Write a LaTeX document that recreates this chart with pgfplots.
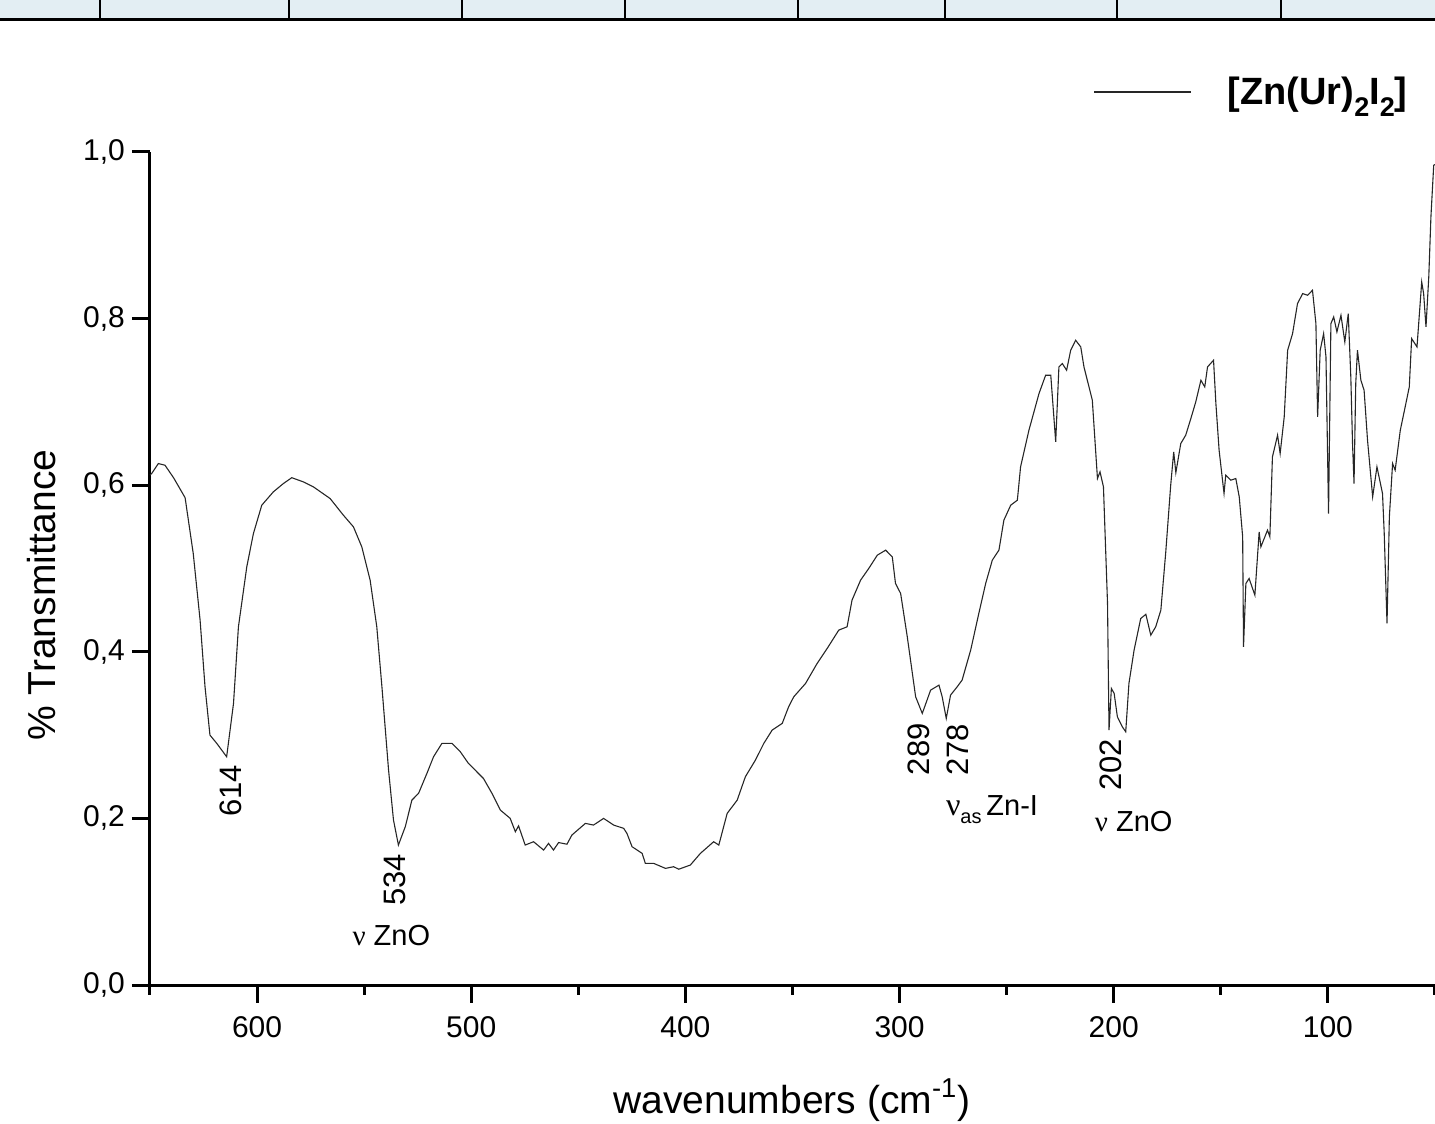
\documentclass[border=0pt]{standalone}
\usepackage{fontspec}
\setmainfont{Liberation Sans}
\newfontfamily\greekfont{Liberation Serif}
\usepackage{pgfplots}
\pgfplotsset{compat=1.18}
\definecolor{bandblue}{RGB}{227,238,243}

\pgfplotstableread{
x y
650.0 0.612
649.2 0.614
646.1 0.626
643.0 0.624
639.0 0.609
633.6 0.585
629.8 0.518
626.6 0.438
624.3 0.358
622.0 0.300
618.8 0.290
614.2 0.274
611.0 0.338
608.7 0.430
604.8 0.502
601.7 0.542
597.8 0.576
592.4 0.592
587.7 0.602
583.8 0.609
578.4 0.604
573.7 0.598
565.9 0.584
559.7 0.564
555.0 0.550
551.1 0.526
547.2 0.486
544.1 0.430
541.7 0.358
538.6 0.258
536.3 0.198
534.0 0.168
530.8 0.190
527.7 0.222
524.6 0.230
520.7 0.254
517.6 0.274
513.7 0.290
509.0 0.290
505.1 0.280
501.3 0.266
494.3 0.248
490.3 0.230
486.4 0.210
481.8 0.200
479.4 0.184
477.9 0.191
474.8 0.168
470.9 0.172
466.2 0.162
463.9 0.170
461.6 0.162
459.2 0.171
455.3 0.169
453.0 0.180
446.7 0.194
442.9 0.192
438.2 0.200
433.5 0.192
428.8 0.188
427.3 0.182
424.9 0.166
420.2 0.158
418.7 0.146
414.8 0.146
409.3 0.140
405.5 0.142
403.1 0.139
397.7 0.144
393.0 0.158
386.8 0.172
384.4 0.168
380.5 0.206
375.8 0.222
372.0 0.250
367.3 0.270
363.4 0.290
359.5 0.306
354.8 0.314
351.8 0.334
349.4 0.346
343.9 0.362
338.5 0.386
333.8 0.404
328.4 0.426
324.5 0.430
322.2 0.462
318.2 0.486
314.4 0.500
310.4 0.516
306.5 0.522
303.4 0.514
301.9 0.482
299.5 0.470
296.4 0.418
292.5 0.346
289.4 0.326
285.5 0.354
281.6 0.360
280.1 0.346
278.2 0.320
276.2 0.348
273.1 0.358
270.8 0.366
266.8 0.402
263.0 0.446
259.8 0.482
256.7 0.510
253.6 0.522
251.3 0.558
248.1 0.576
245.0 0.582
243.5 0.622
239.6 0.666
234.9 0.710
231.8 0.732
229.4 0.732
227.1 0.652
225.6 0.742
224.0 0.746
222.0 0.738
220.1 0.762
217.8 0.774
215.4 0.766
213.9 0.742
210.0 0.702
207.6 0.608
206.4 0.616
204.8 0.598
202.9 0.458
202.2 0.306
201.1 0.356
199.8 0.350
198.3 0.322
196.0 0.310
194.4 0.304
192.9 0.362
190.5 0.402
187.4 0.440
185.0 0.445
182.7 0.420
180.4 0.430
178.0 0.450
175.7 0.520
173.4 0.600
172.0 0.640
171.0 0.615
168.7 0.650
166.4 0.660
164.0 0.680
161.7 0.700
159.3 0.726
157.5 0.718
156.2 0.742
153.4 0.750
152.3 0.698
150.8 0.642
148.5 0.590
147.7 0.612
145.3 0.606
143.0 0.608
141.4 0.586
139.8 0.538
139.4 0.406
138.3 0.482
136.8 0.488
134.1 0.468
132.1 0.544
131.3 0.526
128.2 0.546
127.1 0.538
125.9 0.634
123.5 0.660
122.3 0.638
120.4 0.682
118.8 0.762
116.5 0.782
114.2 0.818
111.8 0.830
109.5 0.828
107.2 0.834
105.6 0.794
104.8 0.682
103.6 0.762
102.0 0.782
100.9 0.754
99.7 0.566
98.6 0.794
97.3 0.802
95.8 0.784
93.9 0.804
92.1 0.772
90.5 0.806
89.3 0.730
88.5 0.650
87.8 0.602
87.0 0.722
86.2 0.762
84.6 0.726
83.1 0.714
81.5 0.654
79.1 0.586
77.1 0.622
74.5 0.590
73.7 0.542
72.4 0.434
71.3 0.562
69.8 0.626
68.6 0.618
66.2 0.666
63.6 0.698
62.0 0.718
60.9 0.776
58.4 0.766
56.2 0.844
55.3 0.830
54.2 0.790
52.9 0.850
51.9 0.922
50.6 0.984
50.0 0.985
}\spectrum

\newcommand{\lowsub}[1]{\raisebox{-0.55ex}{\fontsize{10}{12}\selectfont #1}}
\newcommand{\legsub}[1]{\raisebox{-0.6ex}{\fontsize{13.5}{15}\selectfont\bfseries #1}}

\begin{document}
\begin{tikzpicture}
% strip at the top of the screenshot
\fill[bandblue] (-75pt,483.5pt) rectangle (642.5pt,492.5pt);
\draw[line width=1.5pt] (-75pt,482.75pt) -- (642.5pt,482.75pt);
\foreach \vx in {-25,69.5,156,237.5,324,397.5,483.5,565.5}
  \draw[line width=0.9pt] (\vx pt,483pt) -- (\vx pt,492.5pt);

\begin{axis}[
    scale only axis,
    width=642.5pt, height=416.5pt,
    x dir=reverse,
    xmin=50, xmax=650, ymin=0, ymax=1,
    axis x line=bottom, axis y line=left,
    axis line style={-, line width=1.5pt},
    xtick={100,200,300,400,500,600},
    minor xtick={50,150,250,350,450,550,650},
    ytick={0,0.2,0.4,0.6,0.8,1},
    tick align=outside,
    major tick length=9pt, minor tick length=5pt,
    tick style={line width=1.5pt, black},
    /pgf/number format/assume math mode=true,
    yticklabel style={/pgf/number format/.cd, use comma, fixed, fixed zerofill, precision=1},
    xticklabel style={/pgf/number format/1000 sep={}, yshift=-3pt},
    tick label style={font=\fontsize{15}{18}\selectfont},
    xlabel={wavenumbers (cm\textsuperscript{-1})},
    xlabel style={at={(axis description cs:0.4996,-0.1537)}, anchor=base, font=\fontsize{19.5}{23}\selectfont},
    ylabel={\% Transmittance},
    ylabel style={at={(axis description cs:-0.084,0.468)}, anchor=center, font=\fontsize{19.5}{23}\selectfont},
    legend style={draw=none, fill=none, at={(axis description cs:0.734,1.072)}, anchor=west,
        inner sep=0pt, font=\fontsize{19}{22}\selectfont\bfseries},
    legend image code/.code={\draw[#1] (0pt,0pt) -- (48.5pt,0pt);},
    clip=false,
]
\addplot[black!85, line width=0.55pt] table[x=x, y=y] {\spectrum};
\addlegendentry{\hspace*{16pt}[Zn(Ur)\legsub{2}I\legsub{2}]}

\node[rotate=90, font=\fontsize{15.5}{17}\selectfont] at (axis cs:612.1,0.233) {614};
\node[rotate=90, font=\fontsize{15.5}{17}\selectfont] at (axis cs:535.5,0.126) {534};
\node[anchor=base west, inner sep=0pt, font=\fontsize{14.5}{16}\selectfont] at (axis cs:555.6,0.048) {{\greekfont ν} ZnO};
\node[rotate=90, font=\fontsize{15.5}{17}\selectfont] at (axis cs:291.1,0.283) {289};
\node[rotate=90, font=\fontsize{15.5}{17}\selectfont] at (axis cs:272.9,0.282) {278};
\node[anchor=base west, inner sep=0pt, font=\fontsize{14.5}{16}\selectfont] at (axis cs:278.5,0.204) {{\greekfont\fontsize{16}{17}\selectfont ν}\lowsub{as}\,Zn-I};
\node[rotate=90, font=\fontsize{15.5}{17}\selectfont] at (axis cs:201.4,0.264) {202};
\node[anchor=base west, inner sep=0pt, font=\fontsize{14.5}{16}\selectfont] at (axis cs:209.0,0.184) {{\greekfont ν} ZnO};
\end{axis}

\pgfresetboundingbox
\useasboundingbox (-75pt,-69.5pt) rectangle (642.5pt,492.5pt);
\end{tikzpicture}
\end{document}
